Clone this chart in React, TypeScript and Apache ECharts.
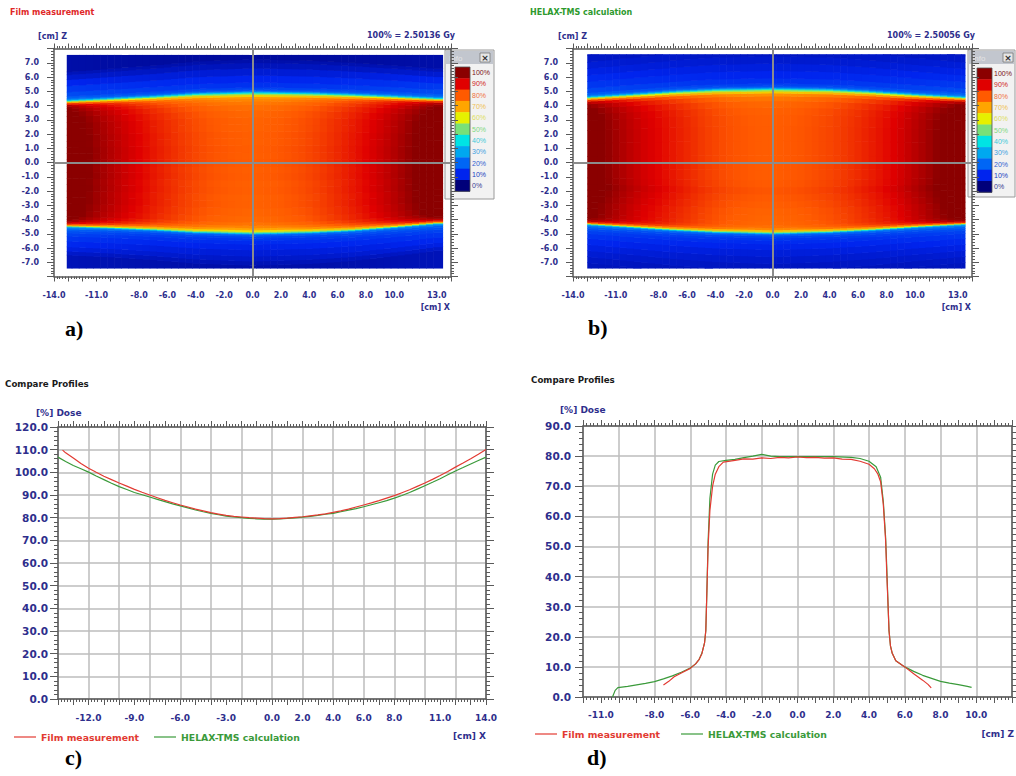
import React, { useEffect, useRef } from "react";
import * as echarts from "echarts";

// ---- Lateral dose profiles along X at Z = 0 (% of reference dose) ----
const filmLatX = [
  -13.7, -13.5, -13, -12.5, -12, -11.5, -11, -10.5, -10, -9.5, -9, -8.5, -8, -7.5, -7, -6.5, -6, -5.5, -5, -4.5,
  -4, -3.5, -3, -2.5, -2, -1.5, -1, -0.5, 0, 0.5, 1, 1.5, 2, 2.5, 3, 3.5, 4, 4.5, 5, 5.5, 6, 6.5, 7, 7.5, 8,
  8.5, 9, 9.5, 10, 10.5, 11, 11.5, 12, 12.5, 13, 13.5, 14,
];
const filmLatDose = [
  109.8, 108.6, 106.3, 103.9, 101.8, 100.0, 98.3, 96.8, 95.3, 93.9, 92.5, 91.2, 90.0, 88.8, 87.6, 86.6, 85.6,
  84.7, 83.8, 83.0, 82.2, 81.6, 81.0, 80.6, 80.3, 80.0, 79.8, 79.6, 79.5, 79.6, 79.8, 80.1, 80.4, 80.8, 81.2,
  81.7, 82.3, 83.0, 83.8, 84.7, 85.6, 86.5, 87.5, 88.6, 89.7, 91.0, 92.3, 93.8, 95.3, 96.9, 98.6, 100.4, 102.3,
  104.1, 106.0, 108.0, 110.1,
];
const calcLatX = [
  -14, -13.5, -13, -12.5, -12, -11.5, -11, -10.5, -10, -9.5, -9, -8.5, -8, -7.5, -7, -6.5, -6, -5.5, -5, -4.5,
  -4, -3.5, -3, -2.5, -2, -1.5, -1, -0.5, 0, 0.5, 1, 1.5, 2, 2.5, 3, 3.5, 4, 4.5, 5, 5.5, 6, 6.5, 7, 7.5, 8,
  8.5, 9, 9.5, 10, 10.5, 11, 11.5, 12, 12.5, 13, 13.5, 14,
];
const calcLatDose = [
  106.7, 104.8, 103.0, 101.6, 100.1, 98.4, 96.8, 95.2, 93.7, 92.4, 91.1, 90.1, 89.1, 88.1, 87.1, 86.1, 85.2,
  84.3, 83.4, 82.6, 81.9, 81.3, 80.7, 80.3, 80.0, 79.7, 79.5, 79.4, 79.4, 79.5, 79.7, 79.9, 80.2, 80.6, 81.0,
  81.5, 81.9, 82.6, 83.3, 84.0, 84.8, 85.7, 86.6, 87.5, 88.6, 89.8, 91.1, 92.6, 94.1, 95.6, 97.2, 98.9, 100.6,
  102.1, 103.7, 105.2, 106.7,
];

// ---- Depth dose profiles along Z at X = 0 (% of reference dose) ----
const filmDepthZ = [
  -7.5, -7.2, -6.9, -6.5, -6.0, -5.7, -5.5, -5.35, -5.2, -5.13, -5.07, -5.0, -4.9, -4.75, -4.6, -4.4, -4.15,
  -3.5, -3.0, -2.5, -2.0, -1.5, -1.0, -0.5, 0, 0.5, 1.0, 1.5, 2.0, 2.5, 3.0, 3.5, 4.0, 4.3, 4.5, 4.65, 4.8,
  4.93, 5.0, 5.07, 5.12, 5.2, 5.3, 5.5, 6.0, 6.5, 7.0, 7.3, 7.48,
];
const filmDepthDose = [
  4.0, 5.2, 6.7, 8.0, 9.5, 11.0, 12.5, 14.4, 18.0, 22.0, 35.0, 50.0, 62.0, 70.0, 74.0, 76.5, 78.0,
  78.6, 79.1, 79.0, 79.4, 79.2, 79.6, 79.4, 79.7, 79.5, 79.6, 79.3, 79.4, 79.0, 78.9, 78.3, 77.3, 75.8, 74.0,
  71.5, 64.0, 52.0, 40.0, 30.0, 22.0, 17.0, 14.5, 12.0, 10.0, 7.7, 5.6, 4.2, 3.0,
];
const calcDepthZ = [
  -10.35, -10.2, -10.05, -9.5, -9.0, -8.5, -8.0, -7.5, -7.0, -6.5, -6.0, -5.7, -5.5, -5.35, -5.2, -5.13, -5.07,
  -5.0, -4.9, -4.75, -4.6, -4.4, -4.0, -3.5, -3.0, -2.5, -2.0, -1.5, -1.0, 0, 1.0, 2.0, 3.0, 3.5, 4.0, 4.4,
  4.65, 4.8, 4.93, 5.0, 5.07, 5.12, 5.2, 5.3, 5.5, 6.0, 6.5, 7.0, 7.5, 8.0, 8.5, 9.0, 9.5, 9.74,
];
const calcDepthDose = [
  0.0, 2.2, 3.1, 3.5, 4.0, 4.5, 5.1, 6.0, 7.0, 8.2, 9.6, 11.0, 12.5, 14.5, 18.0, 22.0, 35.0,
  52.0, 66.0, 74.0, 77.0, 78.2, 78.6, 78.9, 79.5, 80.0, 80.6, 80.0, 79.8, 79.8, 79.8, 79.8, 79.6, 79.2, 78.3, 76.5,
  73.0, 65.0, 53.0, 42.0, 30.0, 22.0, 17.0, 14.5, 12.0, 10.0, 8.5, 7.2, 6.2, 5.2, 4.6, 4.1, 3.5, 3.2,
];

// ---- Field edge (50 % isodose) Z position across X in the dose maps ----
const edgeX = [-13.1, -10, -7, -4, 0, 4, 7, 10, 13.4];
const filmEdgeTop = [4.26, 4.42, 4.57, 4.76, 4.86, 4.8, 4.7, 4.57, 4.4];
const filmEdgeBottom = [-4.4, -4.5, -4.63, -4.8, -4.9, -4.82, -4.68, -4.45, -4.15];
const calcEdgeTop = [4.5, 4.7, 4.9, 5.05, 5.12, 5.05, 4.9, 4.7, 4.5];
const calcEdgeBottom = [-4.25, -4.45, -4.65, -4.8, -4.9, -4.8, -4.65, -4.45, -4.25];

// ---- Tick labels ----
const mapXLabels = [-14, -11, -8, -6, -4, -2, 0, 2, 4, 6, 8, 10, 13];
const mapZLabels = [-7, -6, -5, -4, -3, -2, -1, 0, 1, 2, 3, 4, 5, 6, 7];
const lateralXLabels = [-12, -9, -6, -3, 0, 2, 4, 6, 8, 11, 14];
const depthXLabels = [-11, -8, -6, -4, -2, 0, 2, 4, 6, 8, 10];

// ---- Isodose colour scale, 0 % .. 100 % ----
const scaleSteps = ["0%", "10%", "20%", "30%", "40%", "50%", "60%", "70%", "80%", "90%", "100%"];
const scaleColors = [
  "#00007a", "#0024ee", "#0066f5", "#00a8f0", "#00e4e4", "#78e078", "#e6f000", "#ffa500", "#ff5a00", "#e00000", "#8b0000",
];
const scaleTextColors = [
  "#3a3a90", "#2040c0", "#3060d0", "#40a0e0", "#40c8d8", "#80d880", "#dede60", "#f0c050", "#f07040", "#d02020", "#7a1010",
];

const NAVY = "#2e2e8c";
const AXIS = "#5a5a5a";
const RED = "#e23a32";
const GREEN = "#3a9a3a";

function lerpAt(xs: number[], ys: number[], x: number) {
  if (x <= xs[0]) return ys[0];
  if (x >= xs[xs.length - 1]) return ys[ys.length - 1];
  for (let i = 0; i < xs.length - 1; i++) {
    if (x >= xs[i] && x <= xs[i + 1]) {
      const t = (x - xs[i]) / (xs[i + 1] - xs[i]);
      return ys[i] + t * (ys[i + 1] - ys[i]);
    }
  }
  return ys[ys.length - 1];
}

// Z where the depth profile passes 50 % on each side of the field
function halfCrossing(zs: number[], ds: number[], side: number) {
  for (let j = 0; j < zs.length - 1; j++) {
    const a = ds[j], b = ds[j + 1];
    if (side < 0 && zs[j + 1] < 0 && a < 50 && b >= 50) return zs[j] + ((50 - a) * (zs[j + 1] - zs[j])) / (b - a);
    if (side > 0 && zs[j] > 0 && a >= 50 && b < 50) return zs[j] + ((50 - a) * (zs[j + 1] - zs[j])) / (b - a);
  }
  return side * 5;
}

// Dose map cells [x0, x1, z0, z1, dose]: lateral profile x depth profile,
// the depth axis stretched so the field edge follows the 50 % line of the map.
function buildDoseMap(
  latX: number[], latDose: number[], depZ: number[], depDose: number[],
  edgeTop: number[], edgeBottom: number[], ext: { x0: number; x1: number; z0: number; z1: number }
) {
  const latRef = latDose[latX.indexOf(0)];
  const refTop = halfCrossing(depZ, depDose, 1);
  const refBottom = halfCrossing(depZ, depDose, -1);
  const cols: number[] = [];
  latX.forEach((x, i) => { if (x >= ext.x0 && x <= ext.x1) cols.push(i); });
  const cells: number[][] = [];
  cols.forEach((i, k) => {
    const xa = k === 0 ? ext.x0 : (latX[cols[k - 1]] + latX[i]) / 2;
    const xb = k === cols.length - 1 ? ext.x1 : (latX[i] + latX[cols[k + 1]]) / 2;
    const sT = lerpAt(edgeX, edgeTop, latX[i]) / refTop;
    const sB = lerpAt(edgeX, edgeBottom, latX[i]) / refBottom;
    const zs = depZ.map((z) => z * (z >= 0 ? sT : sB));
    for (let j = 0; j < zs.length; j++) {
      let lo = j === 0 ? ext.z0 : (zs[j - 1] + zs[j]) / 2;
      let hi = j === zs.length - 1 ? ext.z1 : (zs[j] + zs[j + 1]) / 2;
      lo = Math.max(lo, ext.z0);
      hi = Math.min(hi, ext.z1);
      if (hi <= lo) continue;
      const v = Math.max(0, Math.min(100, (latDose[i] * depDose[j]) / latRef));
      cells.push([xa, xb, lo, hi, v]);
    }
  });
  return cells;
}

const filmMap = buildDoseMap(filmLatX, filmLatDose, filmDepthZ, filmDepthDose, filmEdgeTop, filmEdgeBottom,
  { x0: -13.1, x1: 13.4, z0: -7.4, z1: 7.55 });
const calcMap = buildDoseMap(calcLatX, calcLatDose, calcDepthZ, calcDepthDose, calcEdgeTop, calcEdgeBottom,
  { x0: -13.0, x1: 13.5, z0: -7.4, z1: 7.6 });

const zip = (xs: number[], ys: number[]) => xs.map((x, i) => [x, ys[i]]);

const PANELS = {
  a: { left: 54, top: 48.5, width: 397, height: 228 },
  b: { left: 573, top: 48.5, width: 399, height: 228 },
  c: { left: 58, top: 427, width: 428, height: 272 },
  d: { left: 583, top: 426, width: 429, height: 271 },
};

const tickFont = { color: NAVY, fontFamily: "DejaVu Sans", fontWeight: "bold" as const };

function labelFmt(list: number[]) {
  return (v: number) => (list.some((l) => Math.abs(l - v) < 1e-6) ? v.toFixed(1) : "");
}

function ruler(opts: any) {
  const { grid, min, max, interval, position, labels, fontSize, margin, tick, minor, splitLine } = opts;
  return {
    type: "value",
    gridIndex: grid,
    min,
    max,
    interval,
    position,
    axisLine: { show: true, onZero: false, lineStyle: { color: AXIS, width: 1.5 } },
    axisTick: { show: true, length: tick, lineStyle: { color: AXIS, width: 1 } },
    minorTick: { show: true, splitNumber: 5, length: minor, lineStyle: { color: AXIS, width: 1 } },
    axisLabel: labels
      ? { show: true, margin, fontSize, ...tickFont, formatter: labels === "all" ? (v: number) => v.toFixed(1) : labelFmt(labels) }
      : { show: false },
    splitLine: splitLine
      ? { show: true, lineStyle: { color: "#bdbdbd", width: 1.5 } }
      : { show: false },
  };
}

function gridLines(grid: number, min: number, max: number) {
  return {
    type: "value",
    gridIndex: grid,
    min,
    max,
    interval: 2,
    position: "bottom",
    axisLine: { show: false, onZero: false },
    axisTick: { show: false },
    axisLabel: { show: false },
    splitLine: { show: true, lineStyle: { color: "#bdbdbd", width: 1.5 } },
  };
}

function renderCell(_params: any, api: any) {
  const tl = api.coord([api.value(0), api.value(3)]);
  const br = api.coord([api.value(1), api.value(2)]);
  return {
    type: "rect",
    shape: { x: tl[0], y: tl[1], width: br[0] - tl[0] + 0.6, height: br[1] - tl[1] + 0.6 },
    style: { fill: api.visual("color") },
  };
}

function txt(x: number, y: number, text: string, font: string, fill: string, align = "left", extra: any = {}) {
  return {
    type: "text",
    x,
    y,
    z: 120,
    silent: true,
    style: { text, font, fill, textAlign: align, textVerticalAlign: "middle" },
    ...extra,
  };
}

function infoBox(x: number, y: number, w: number, h: number, swX: number, swTop: number, swH: number) {
  const children: any[] = [
    { type: "rect", shape: { x, y, width: w, height: h }, style: { fill: "#f2f2f2", stroke: "#9a9a9a", lineWidth: 1 } },
    { type: "rect", shape: { x: x + 1, y: y + 1, width: w - 2, height: 13 }, style: { fill: "#c2c6ce" } },
    { type: "text", x: x + 4, y: y + 8, style: { text: "Info", font: '8px "Liberation Sans"', fill: "#e4e4e4", textVerticalAlign: "middle" } },
    { type: "rect", shape: { x: x + 35, y: y + 3, width: 10, height: 9 }, style: { fill: "#e6e6e6", stroke: "#7a7a7a", lineWidth: 0.8 } },
    { type: "text", x: x + 40, y: y + 7.5, style: { text: "×", font: 'bold 9px "DejaVu Sans"', fill: "#303030", textAlign: "center", textVerticalAlign: "middle" } },
  ];
  const n = scaleColors.length;
  for (let k = 0; k < n; k++) {
    const idx = n - 1 - k;
    children.push({
      type: "rect",
      shape: { x: swX, y: swTop + k * swH, width: 15, height: swH + 0.4 },
      style: { fill: scaleColors[idx] },
    });
    children.push({
      type: "text",
      x: swX + 17,
      y: swTop + k * swH + swH / 2,
      style: { text: scaleSteps[idx], font: '7px "Liberation Sans"', fill: scaleTextColors[idx], textVerticalAlign: "middle" },
    });
  }
  children.push({
    type: "rect",
    shape: { x: swX, y: swTop, width: 15, height: swH * n },
    style: { fill: "none", stroke: "#505050", lineWidth: 0.8 },
  });
  return { type: "group", z: 110, silent: true, children };
}

function legendRow(x: number, y: number, gap: number) {
  const f = 'bold 9.3px "DejaVu Sans"';
  return [
    { type: "line", z: 120, shape: { x1: x, y1: y, x2: x + 22, y2: y }, style: { stroke: RED, lineWidth: 1.2 } },
    txt(x + 27, y, "Film measurement", f, RED),
    { type: "line", z: 120, shape: { x1: x + gap, y1: y, x2: x + gap + 22, y2: y }, style: { stroke: GREEN, lineWidth: 1.2 } },
    txt(x + gap + 27, y, "HELAX-TMS calculation", f, GREEN),
  ];
}

export default function App() {
  const ref = useRef<HTMLDivElement>(null);

  useEffect(() => {
    document.body.style.margin = "0";
    if (!ref.current) return;
    const chart = echarts.init(ref.current, undefined, { renderer: "svg" });

    const grids = [PANELS.a, PANELS.b, PANELS.c, PANELS.d].map((p) => ({ ...p, containLabel: false }));

    const xAxis = [
      // a: 0 bottom, 1 top
      ruler({ grid: 0, min: -14, max: 14, interval: 1, position: "bottom", labels: mapXLabels, fontSize: 8, margin: 15, tick: 5, minor: 2.5 }),
      ruler({ grid: 0, min: -14, max: 14, interval: 1, position: "top", tick: 5, minor: 2.5 }),
      // b: 2 bottom, 3 top
      ruler({ grid: 1, min: -14, max: 14, interval: 1, position: "bottom", labels: mapXLabels, fontSize: 8, margin: 15, tick: 5, minor: 2.5 }),
      ruler({ grid: 1, min: -14, max: 14, interval: 1, position: "top", tick: 5, minor: 2.5 }),
      // c: 4 bottom, 5 top, 6 grid
      ruler({ grid: 2, min: -14, max: 14, interval: 1, position: "bottom", labels: lateralXLabels, fontSize: 9, margin: 14, tick: 6, minor: 3 }),
      ruler({ grid: 2, min: -14, max: 14, interval: 1, position: "top", tick: 6, minor: 3 }),
      gridLines(2, -14, 14),
      // d: 7 bottom, 8 top, 9 grid
      ruler({ grid: 3, min: -12, max: 12, interval: 1, position: "bottom", labels: depthXLabels, fontSize: 9, margin: 13, tick: 6, minor: 3 }),
      ruler({ grid: 3, min: -12, max: 12, interval: 1, position: "top", tick: 6, minor: 3 }),
      gridLines(3, -12, 12),
    ];

    const yAxis = [
      // a: 0 left, 1 right
      ruler({ grid: 0, min: -8, max: 8, interval: 1, position: "left", labels: mapZLabels, fontSize: 8, margin: 15, tick: 7, minor: 3 }),
      ruler({ grid: 0, min: -8, max: 8, interval: 1, position: "right", tick: 7, minor: 3 }),
      // b: 2 left, 3 right
      ruler({ grid: 1, min: -8, max: 8, interval: 1, position: "left", labels: mapZLabels, fontSize: 8, margin: 15, tick: 7, minor: 3 }),
      ruler({ grid: 1, min: -8, max: 8, interval: 1, position: "right", tick: 7, minor: 3 }),
      // c: 4 left, 5 right
      ruler({ grid: 2, min: 0, max: 120, interval: 10, position: "left", labels: "all", fontSize: 10.5, margin: 10, tick: 8, minor: 4, splitLine: true }),
      ruler({ grid: 2, min: 0, max: 120, interval: 10, position: "right", tick: 8, minor: 4 }),
      // d: 6 left, 7 right
      ruler({ grid: 3, min: 0, max: 90, interval: 10, position: "left", labels: "all", fontSize: 10.5, margin: 12, tick: 8, minor: 4, splitLine: true }),
      ruler({ grid: 3, min: 0, max: 90, interval: 10, position: "right", tick: 8, minor: 4 }),
    ];

    const crosshair = {
      silent: true,
      symbol: ["none", "none"],
      label: { show: false },
      lineStyle: { color: "#8c8c8c", width: 2, type: "solid" },
      data: [{ xAxis: 0 }, { yAxis: 0 }],
    };

    const series: any[] = [
      {
        type: "custom", name: "Film measurement map", xAxisIndex: 0, yAxisIndex: 0, data: filmMap,
        renderItem: renderCell, encode: { x: [0, 1], y: [2, 3] }, silent: true, z: 2, markLine: crosshair,
      },
      {
        type: "custom", name: "HELAX-TMS calculation map", xAxisIndex: 2, yAxisIndex: 2, data: calcMap,
        renderItem: renderCell, encode: { x: [0, 1], y: [2, 3] }, silent: true, z: 2, markLine: crosshair,
      },
      {
        type: "line", name: "HELAX-TMS calculation", xAxisIndex: 4, yAxisIndex: 4, data: zip(calcLatX, calcLatDose),
        symbol: "none", lineStyle: { color: GREEN, width: 1.2 }, z: 3,
      },
      {
        type: "line", name: "Film measurement", xAxisIndex: 4, yAxisIndex: 4, data: zip(filmLatX, filmLatDose),
        symbol: "none", lineStyle: { color: RED, width: 1.2 }, z: 4,
      },
      {
        type: "line", name: "HELAX-TMS calculation", xAxisIndex: 7, yAxisIndex: 6, data: zip(calcDepthZ, calcDepthDose),
        symbol: "none", lineStyle: { color: GREEN, width: 1.2 }, z: 3,
      },
      {
        type: "line", name: "Film measurement", xAxisIndex: 7, yAxisIndex: 6, data: zip(filmDepthZ, filmDepthDose),
        symbol: "none", lineStyle: { color: RED, width: 1.2 }, z: 4,
      },
    ];

    const small = 'bold 8px "DejaVu Sans"';
    const panelTag = 'bold 22px "Liberation Serif"';
    const graphic: any[] = [
      // a) film dose map
      txt(10, 12, "Film measurement", small, "#e02828"),
      txt(38, 36, "[cm] Z", small, NAVY),
      txt(455, 35, "100% = 2.50136 Gy", small, NAVY, "right"),
      txt(450, 307, "[cm] X", small, NAVY, "right"),
      txt(65, 328, "a)", panelTag, "#000000"),
      infoBox(445, 50, 49, 149, 455, 67, 11.3),
      // b) calculated dose map
      txt(530, 12, "HELAX-TMS calculation", small, "#2e9a2e"),
      txt(558, 36, "[cm] Z", small, NAVY),
      txt(975, 35, "100% = 2.50056 Gy", small, NAVY, "right"),
      txt(971, 307, "[cm] X", small, NAVY, "right"),
      txt(588, 327, "b)", panelTag, "#000000"),
      infoBox(968, 50, 47, 147, 977, 68, 11.3),
      // c) lateral profiles
      txt(5, 384, "Compare Profiles", 'bold 8.7px "DejaVu Sans"', "#1a1a1a"),
      txt(36, 413, "[%] Dose", 'bold 9px "DejaVu Sans"', NAVY),
      ...legendRow(14, 737, 140),
      txt(486, 736, "[cm] X", 'bold 9px "DejaVu Sans"', NAVY, "right"),
      txt(65, 757, "c)", panelTag, "#000000"),
      // d) depth profiles
      txt(531, 380, "Compare Profiles", 'bold 8.7px "DejaVu Sans"', "#1a1a1a"),
      txt(560, 410, "[%] Dose", 'bold 9px "DejaVu Sans"', NAVY),
      ...legendRow(535, 734, 146),
      txt(1014, 734, "[cm] Z", 'bold 9px "DejaVu Sans"', NAVY, "right"),
      txt(587, 757, "d)", panelTag, "#000000"),
    ];

    chart.setOption({
      animation: false,
      backgroundColor: "#ffffff",
      grid: grids,
      xAxis,
      yAxis,
      visualMap: {
        type: "continuous",
        show: false,
        seriesIndex: [0, 1],
        dimension: 4,
        min: 0,
        max: 100,
        inRange: { color: scaleColors },
      },
      series,
      graphic,
    });

    return () => chart.dispose();
  }, []);

  return <div ref={ref} style={{ width: 1016, height: 776 }} />;
}
